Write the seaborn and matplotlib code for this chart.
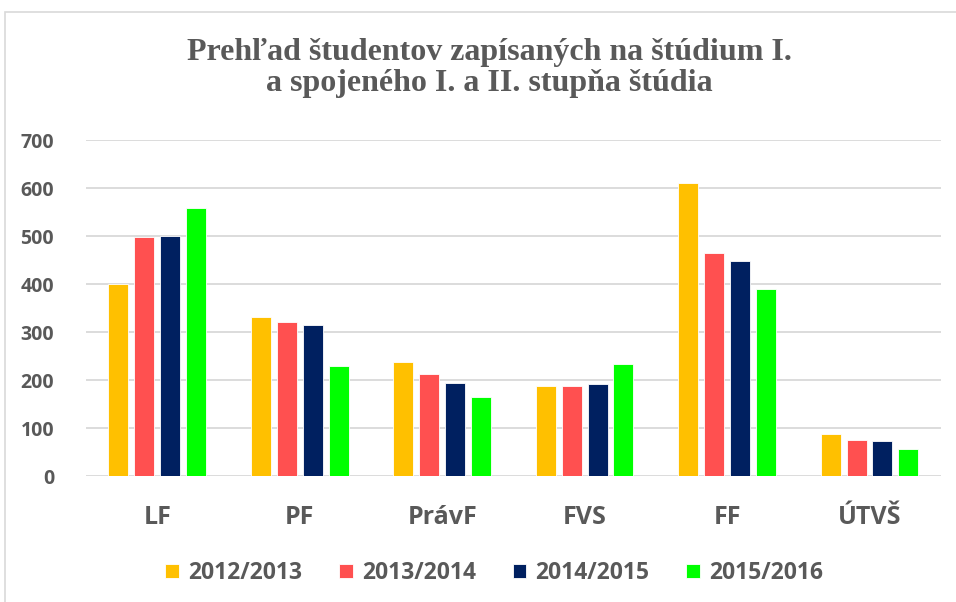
import numpy as np
import pandas as pd
import matplotlib.pyplot as plt
import seaborn as sns
from matplotlib.patches import Rectangle

# data
faculties = ['LF', 'PF', 'PrávF', 'FVS', 'FF', 'ÚTVŠ']
years = ['2012/2013', '2013/2014', '2014/2015', '2015/2016']
y2012 = [400, 331, 238, 188, 610, 88]
y2013 = [498, 321, 213, 188, 466, 76]
y2014 = [500, 314, 194, 192, 449, 74]
y2015 = [558, 229, 166, 234, 391, 56]

colors = ['#FFC000', '#FF5050', '#002060', '#00FF00']
grey = '#595959'

df = pd.DataFrame({'fakulta': faculties * 4,
                   'rok': np.repeat(years, len(faculties)),
                   'pocet': y2012 + y2013 + y2014 + y2015})

sns.set_style('white')
plt.rcParams['font.family'] = ['Open Sans', 'Liberation Sans', 'DejaVu Sans']

fig = plt.figure(figsize=(9.56, 6.02), dpi=100)
ax = fig.add_axes([0.090, 0.209, 0.894, 0.558])

sns.barplot(data=df, x='fakulta', y='pocet', hue='rok', palette=colors,
            saturation=1, width=0.727, gap=0.23, edgecolor='white',
            linewidth=0.6, errorbar=None, ax=ax)

ax.set_ylim(0, 700)
ax.set_yticks(range(0, 701, 100))
ax.yaxis.grid(True, color='#d9d9d9', linewidth=1.3)
ax.set_axisbelow(True)
for s in ax.spines.values():
    s.set_visible(False)
ax.set_xlabel('')
ax.set_ylabel('')
ax.tick_params(axis='y', length=0, pad=23, labelsize=14, labelcolor=grey)
ax.tick_params(axis='x', length=0, pad=21, labelsize=18, labelcolor=grey)
for lbl in ax.get_xticklabels() + ax.get_yticklabels():
    lbl.set_fontweight('bold')

fig.text(0.512, 0.887, 'Prehľad študentov zapísaných na štúdium I.\na spojeného I. a II. stupňa štúdia',
         ha='center', va='center', fontsize=23, fontweight='bold', color=grey,
         family=['Liberation Serif', 'DejaVu Serif'], linespacing=1.12)

handles, labels = ax.get_legend_handles_labels()
leg = ax.legend(handles, labels, loc='center', bbox_to_anchor=(0.517, 0.048),
                bbox_transform=fig.transFigure, ncol=4, frameon=False,
                handlelength=0.6, handleheight=0.6, handletextpad=0.4,
                columnspacing=1.6, prop={'size': 16.5, 'weight': 'bold'})
for t in leg.get_texts():
    t.set_color(grey)

# chart border
fig.patches.append(Rectangle((5 / 956, -0.05), 1.1, 1 - 12 / 602 + 0.05,
                             transform=fig.transFigure, fill=False,
                             edgecolor='#d9d9d9', linewidth=1.2))

fig.savefig('out.png', dpi=100)
